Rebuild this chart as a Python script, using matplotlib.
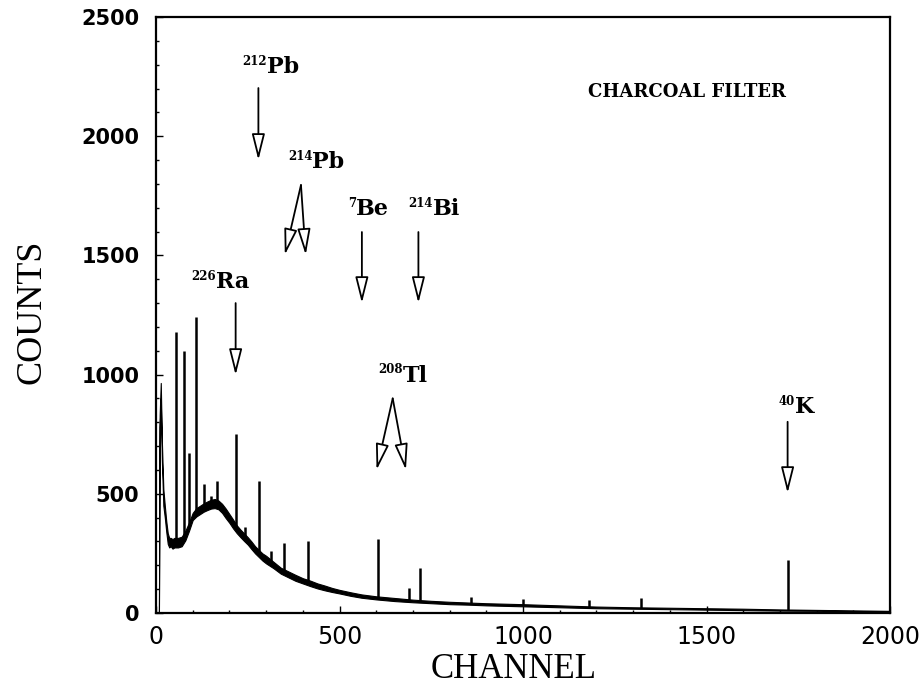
import matplotlib.pyplot as plt
import numpy as np

# continuum of the spectrum, read as a lower / upper envelope of the noisy band
channel = [0, 8, 10, 13, 16, 20, 24, 28, 32, 36, 40, 45, 50, 60, 70, 80, 90, 100,
           110, 120, 130, 140, 150, 160, 170, 180, 190, 200, 210, 220, 230, 240,
           250, 260, 270, 280, 290, 300, 320, 340, 360, 380, 400, 420, 440, 460,
           480, 500, 530, 560, 600, 650, 700, 750, 800, 850, 900, 950, 1000, 1100,
           1200, 1300, 1400, 1500, 1600, 1700, 1800, 1900, 2000]
counts_low = [0, 0, 780, 900, 640, 450, 400, 340, 290, 275, 280, 270, 275, 275,
              280, 305, 345, 390, 405, 415, 425, 432, 438, 440, 435, 420, 398,
              378, 355, 335, 318, 302, 287, 268, 250, 235, 220, 208, 188, 165,
              150, 135, 124, 113, 103, 95, 88, 82, 72, 64, 57, 50, 45, 41, 37,
              35, 32, 30, 28, 24, 20, 18, 16, 14, 12, 10, 9, 8, 7]
counts_high = [0, 0, 830, 965, 720, 520, 450, 385, 335, 315, 315, 310, 315, 315,
               320, 345, 380, 420, 440, 450, 460, 468, 475, 478, 472, 458, 438,
               415, 392, 368, 350, 334, 318, 300, 280, 265, 250, 240, 215, 190,
               175, 160, 146, 136, 124, 115, 105, 97, 87, 78, 70, 63, 56, 51,
               47, 44, 41, 39, 37, 32, 27, 24, 22, 20, 18, 15, 13, 11, 9]

# photopeaks: channel, continuum under it, top of the peak
peak_channel = [55, 75, 90, 110, 131, 150, 167, 219, 243, 281, 313, 349, 415,
                604, 689, 720, 857, 999, 1180, 1321, 1722]
peak_base = [300, 300, 360, 420, 440, 460, 460, 355, 320, 250, 205, 170, 135,
             63, 52, 50, 40, 33, 24, 21, 13]
peak_top = [1180, 1100, 670, 1240, 540, 490, 555, 750, 360, 555, 260, 295, 300,
            310, 105, 190, 68, 60, 55, 61, 222]

# nuclide labels (boundary between mass number and symbol, baseline)
label_mass = ['212', '214', '7', '214', '226', '208', '40']
label_symbol = ['Pb', 'Pb', 'Be', 'Bi', 'Ra', 'Tl', 'K']
label_x = [303, 426, 545, 754, 163, 672, 1741]
label_y = [2265, 1867, 1669, 1669, 1363, 970, 839]

arrow_tail = [(279, 2202), (395, 1795), (395, 1795), (561, 1598), (715, 1598),
              (217, 1300), (645, 900), (645, 900), (1721, 802)]
arrow_tip = [(279, 1900), (351, 1502), (408, 1502), (561, 1300), (715, 1300),
             (217, 998), (601, 600), (681, 600), (1721, 503)]

fig = plt.figure(figsize=(9.23, 7), dpi=100)
ax = fig.add_axes([156 / 923, 87 / 700, 734 / 923, 596 / 700])

ax.fill_between(channel, counts_low, counts_high, color='black', lw=0.8)
ax.vlines(peak_channel, peak_base, peak_top, color='black', lw=1.8)

for tail, tip in zip(arrow_tail, arrow_tip):
    ax.annotate('', xy=tip, xytext=tail,
                arrowprops=dict(arrowstyle='-|>,head_length=0.8,head_width=0.2',
                                fc='white', ec='black', lw=1.3,
                                mutation_scale=20, shrinkA=0, shrinkB=0))

for m, s, x, y in zip(label_mass, label_symbol, label_x, label_y):
    ax.text(x, y, s, ha='left', va='baseline', family='DejaVu Serif',
            weight='bold', fontsize=16)
    ax.annotate(m, xy=(x, y), xytext=(0, 6), textcoords='offset points',
                ha='right', va='baseline', family='DejaVu Serif',
                weight='bold', fontsize=8.5)

ax.text(1176, 2164, 'CHARCOAL FILTER', ha='left', va='baseline',
        family='DejaVu Serif', weight='bold', fontsize=13)

ax.set_xlim(0, 2000)
ax.set_ylim(0, 2500)
ax.set_xticks(np.arange(0, 2001, 500))
ax.set_yticks(np.arange(0, 2501, 500))
ax.set_xticks(np.arange(0, 2001, 100), minor=True)
ax.set_yticks(np.arange(0, 2501, 100), minor=True)
ax.tick_params(which='both', direction='in', width=1)
ax.tick_params(which='major', length=5)
ax.tick_params(which='minor', length=2.5)
ax.tick_params(axis='x', pad=9, labelsize=17)
ax.tick_params(axis='y', pad=12, labelsize=15)
for lab in ax.get_yticklabels():
    lab.set_fontweight('bold')
for sp in ax.spines.values():
    sp.set_linewidth(1.6)

fig.text(514 / 923, 1 - 670 / 700, 'CHANNEL', ha='center', va='center',
         family='Liberation Serif', fontsize=25)
fig.text(32 / 923, 1 - 312 / 700, 'COUNTS', ha='center', va='center',
         rotation=90, family='Liberation Serif', fontsize=26)

fig.savefig('out.png', dpi=100)
